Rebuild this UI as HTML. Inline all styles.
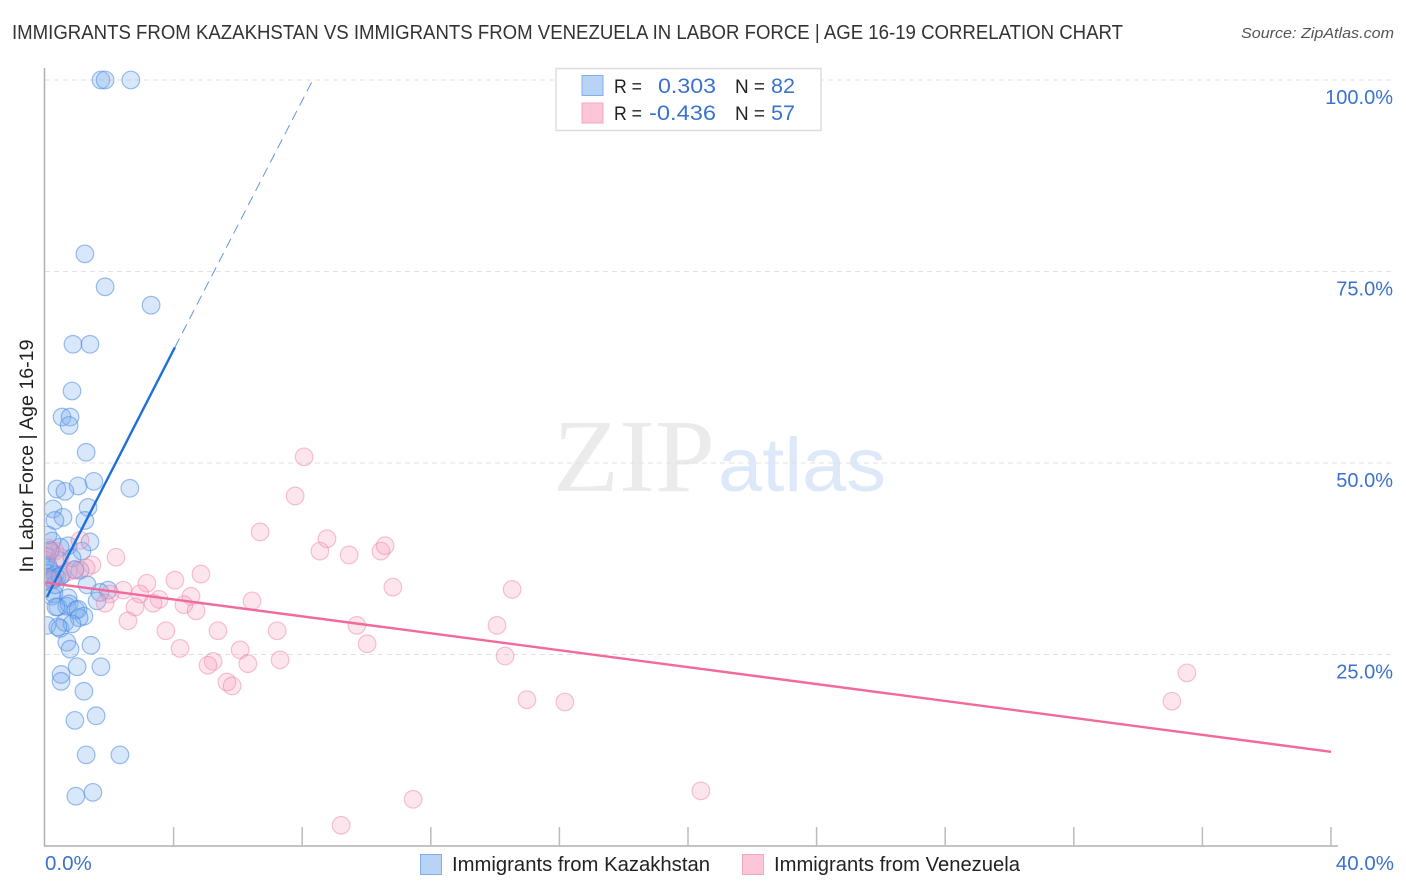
<!DOCTYPE html>
<html lang="en">
<head>
<meta charset="utf-8">
<title>Immigrants from Kazakhstan vs Immigrants from Venezuela in Labor Force | Age 16-19 Correlation Chart</title>
<style>
html,body{margin:0;padding:0;background:#fff;}
svg{display:block;}
text{font-family:"Liberation Sans",sans-serif;}
</style>
</head>
<body>
<svg id="chart" xmlns="http://www.w3.org/2000/svg" width="1406" height="892" viewBox="0 0 1406 892">
  <defs><clipPath id="plot-clip"><rect x="45.5" y="60" width="1340" height="786"/></clipPath></defs>
  <rect x="0" y="0" width="1406" height="892" fill="#ffffff"/>
  <text x="12" y="39" font-size="20" fill="#333333" textLength="1111" lengthAdjust="spacingAndGlyphs">IMMIGRANTS FROM KAZAKHSTAN VS IMMIGRANTS FROM VENEZUELA IN LABOR FORCE | AGE 16-19 CORRELATION CHART</text>
  <text x="1241" y="38" font-size="15" font-style="italic" fill="#555555" textLength="153" lengthAdjust="spacingAndGlyphs">Source: ZipAtlas.com</text>
  <g>
    <text x="553" y="491" font-size="104" fill="#ebebeb" textLength="162" lengthAdjust="spacingAndGlyphs" style="font-family:'Liberation Serif',serif;">ZIP</text>
    <text x="718" y="491" font-size="76" fill="#dde8f8" textLength="168" lengthAdjust="spacingAndGlyphs">atlas</text>
  </g>
  <g id="grid"></g>
  <g id="axes">
    <line x1="44.5" y1="68" x2="44.5" y2="846.5" stroke="#b0b0b0" stroke-width="1.5"/>
    <line x1="44" y1="846" x2="1338" y2="846" stroke="#b0b0b0" stroke-width="1.5"/>
  </g>
  <g id="xticks"></g>
  <g id="labels"></g>
  <text transform="translate(33,456) rotate(-90)" font-size="19" fill="#222222" text-anchor="middle" textLength="233" lengthAdjust="spacingAndGlyphs">In Labor Force | Age 16-19</text>
  <g id="points-kazakhstan" clip-path="url(#plot-clip)"></g>
  <g id="points-venezuela" clip-path="url(#plot-clip)"></g>
  <g id="trends"></g>

  <g>
    <rect x="556" y="68.5" width="265" height="62" fill="#ffffff" stroke="#dddddd" stroke-width="1.5"/>
    <rect x="582" y="75.5" width="21" height="20" fill="#b9d3f7" stroke="#80aee8" stroke-width="1"/>
    <rect x="582" y="103" width="21" height="20" fill="#fcc5d8" stroke="#f5a6c1" stroke-width="1"/>
    <text x="614" y="93" font-size="19" fill="#222222" textLength="28" lengthAdjust="spacingAndGlyphs">R =</text>
    <text x="658" y="93" font-size="21" fill="#3b72d0" textLength="58" lengthAdjust="spacingAndGlyphs">0.303</text>
    <text x="735" y="93" font-size="19" fill="#222222" textLength="30" lengthAdjust="spacingAndGlyphs">N =</text>
    <text x="771" y="93" font-size="21" fill="#3b72d0" textLength="24" lengthAdjust="spacingAndGlyphs">82</text>
    <text x="614" y="120" font-size="19" fill="#222222" textLength="28" lengthAdjust="spacingAndGlyphs">R =</text>
    <text x="649" y="120" font-size="21" fill="#3b72d0" textLength="67" lengthAdjust="spacingAndGlyphs">-0.436</text>
    <text x="735" y="120" font-size="19" fill="#222222" textLength="30" lengthAdjust="spacingAndGlyphs">N =</text>
    <text x="771" y="120" font-size="21" fill="#3b72d0" textLength="24" lengthAdjust="spacingAndGlyphs">57</text>
  </g>

  <g>
    <rect x="420.5" y="854.5" width="21" height="20" fill="#b9d3f7" stroke="#80aee8" stroke-width="1"/>
    <text x="452" y="871" font-size="20" fill="#222222" textLength="258" lengthAdjust="spacingAndGlyphs">Immigrants from Kazakhstan</text>
    <rect x="742.5" y="854.5" width="21" height="20" fill="#fcc5d8" stroke="#f5a6c1" stroke-width="1"/>
    <text x="774" y="871" font-size="20" fill="#222222" textLength="246" lengthAdjust="spacingAndGlyphs">Immigrants from Venezuela</text>
  </g>
</svg>
<script>
var kazakhstanX = [1.74,1.87,2.67,1.24,1.87,3.30,0.87,1.40,0.84,0.53,0.78,0.75,1.28,1.52,2.64,1.03,0.37,0.62,1.34,1.24,0.25,0.56,0.31,0.09,0.22,0.72,0.47,1.40,1.15,0.16,0.06,0.84,0.40,0.09,1.09,0.93,0.53,0.37,0.22,0.06,0.16,0.31,1.31,1.96,1.71,0.28,0.22,0.72,1.62,0.40,0.68,0.75,0.96,1.03,1.21,1.06,0.06,0.47,0.62,0.84,1.43,0.68,0.78,1.74,1.00,0.50,0.50,1.21,1.59,0.93,1.28,2.33,1.49,0.96,0.34,0.09,0.03,0.31,0.25,0.47,0.40,0.16];
var kazakhstanY = [100,100,100,77.3,73.0,70.6,65.5,65.5,59.4,56.0,56.0,54.9,51.4,47.6,46.7,47.0,46.6,46.3,44.2,42.5,44.0,42.9,42.5,40.6,39.8,39.2,39.0,39.7,38.5,38.4,37.8,37.6,37.3,36.7,36.0,36.1,35.4,35.1,35.0,35.6,36.0,35.4,34.1,33.4,33.1,32.9,32.6,32.4,32.0,31.2,31.3,31.6,30.8,30.9,30.0,29.8,28.8,28.4,29.2,29.0,26.2,26.6,25.7,23.4,23.4,22.4,21.5,20.2,17.0,16.4,11.9,11.9,7.0,6.5,31.2,35.1,37.3,34.1,34.8,35.2,28.6,38.6];
var venezuelaX = [8.06,7.78,6.69,8.77,8.55,9.46,10.45,10.58,10.82,14.53,4.85,4.04,3.17,2.21,1.46,1.09,1.28,0.47,0.31,0.72,2.43,2.02,2.95,3.55,3.36,4.54,4.32,4.70,6.44,2.80,1.87,2.58,3.76,5.38,7.22,9.70,14.06,10.02,4.20,6.07,5.23,5.07,6.31,7.31,14.31,5.66,5.82,14.99,16.17,35.52,35.05,20.40,11.45,9.21,0.16,0.09,0.93];
var venezuelaY = [50.8,45.7,41.0,40.1,38.5,38.0,38.5,39.2,33.8,33.5,35.5,34.7,34.3,37.7,36.7,39.9,36.3,37.7,38.5,35.8,33.4,32.9,32.9,32.2,31.7,32.6,31.5,30.7,32.0,31.2,31.7,29.4,28.1,28.1,28.1,28.8,28.8,26.4,25.8,25.6,24.1,23.6,23.8,24.3,24.8,21.4,20.9,19.1,18.8,22.6,18.9,7.2,6.1,2.7,34.7,38.9,36.0];
var kazakhstanTrendX = [0.06,4.04];
var kazakhstanTrendY = [32.5,65.1];
var kazakhstanProjectionX = [4.04,8.33];
var kazakhstanProjectionY = [65.1,100];
var venezuelaTrendX = [0,40];
var venezuelaTrendY = [34.4,12.3];
var yTickValues = [100,75,50,25];
var yTickLabels = ["100.0%","75.0%","50.0%","25.0%"];
var xTickValues = [4,8,12,16,20,24,28,32,36,40];
var xEndLabels = ["0.0%","40.0%"];
var xEndValues = [0,40];

var SVGNS = "http://www.w3.org/2000/svg";
function xScale(v){ return 45 + v * 32.15; }
function yScale(v){ return 846 - v * 7.66; }
function make(tag, parent){
  var el = document.createElementNS(SVGNS, tag);
  document.getElementById(parent).appendChild(el);
  return el;
}
yTickValues.forEach(function(v, i){
  var g = make("line", "grid");
  
  
  g.setAttribute("x1", 45);
  g.setAttribute("x2", 1393);
  g.setAttribute("y1", yScale(v));
  g.setAttribute("y2", yScale(v));
  g.setAttribute("stroke", "#e2e2e2");
  g.setAttribute("stroke-width", "1");
  g.setAttribute("stroke-dasharray", "5 4");
  var t = make("text", "labels");
  
  
  t.setAttribute("x", 1393);
  t.setAttribute("y", yScale(v) + 24);
  t.setAttribute("text-anchor", "end");
  t.setAttribute("font-size", "20");
  t.setAttribute("fill", "#3b72d0");
  t.textContent = yTickLabels[i];
});
xTickValues.forEach(function(v){
  var k = make("line", "xticks");
  
  
  k.setAttribute("x1", xScale(v));
  k.setAttribute("x2", xScale(v));
  k.setAttribute("y1", 827);
  k.setAttribute("y2", 846);
  k.setAttribute("stroke", "#bcbcbc");
  k.setAttribute("stroke-width", "1.5");
});
xEndValues.forEach(function(v, i){
  var t = make("text", "labels");
  
  
  t.setAttribute("x", i === 0 ? xScale(v) : 1394);
  t.setAttribute("y", 870);
  t.setAttribute("text-anchor", i === 0 ? "start" : "end");
  t.setAttribute("font-size", "20.5");
  t.setAttribute("fill", "#3b72d0");
  t.textContent = xEndLabels[i];
});
kazakhstanX.forEach(function(v, i){
  var c = make("circle", "points-kazakhstan");
  
  
  c.setAttribute("cx", xScale(v));
  c.setAttribute("cy", yScale(kazakhstanY[i]));
  c.setAttribute("r", 8.8);
  c.setAttribute("fill", "#7fb0f0");
  c.setAttribute("fill-opacity", "0.3");
  c.setAttribute("stroke", "#4a8be0");
  c.setAttribute("stroke-opacity", "0.55");
  c.setAttribute("stroke-width", "1.2");
});
venezuelaX.forEach(function(v, i){
  var c = make("circle", "points-venezuela");
  
  
  c.setAttribute("cx", xScale(v));
  c.setAttribute("cy", yScale(venezuelaY[i]));
  c.setAttribute("r", 8.8);
  c.setAttribute("fill", "#f9a0be");
  c.setAttribute("fill-opacity", "0.28");
  c.setAttribute("stroke", "#ee7aa3");
  c.setAttribute("stroke-opacity", "0.45");
  c.setAttribute("stroke-width", "1.2");
});
var trendKaz = make("line", "trends");


trendKaz.setAttribute("x1", xScale(kazakhstanTrendX[0]));
trendKaz.setAttribute("y1", yScale(kazakhstanTrendY[0]));
trendKaz.setAttribute("x2", xScale(kazakhstanTrendX[1]));
trendKaz.setAttribute("y2", yScale(kazakhstanTrendY[1]));
trendKaz.setAttribute("stroke", "#1f6fdb");
trendKaz.setAttribute("stroke-width", "2.4");
var projKaz = make("line", "trends");


projKaz.setAttribute("x1", xScale(kazakhstanProjectionX[0]));
projKaz.setAttribute("y1", yScale(kazakhstanProjectionY[0]));
projKaz.setAttribute("x2", xScale(kazakhstanProjectionX[1]));
projKaz.setAttribute("y2", yScale(kazakhstanProjectionY[1]));
projKaz.setAttribute("stroke", "#5f96e0");
projKaz.setAttribute("stroke-width", "1");
projKaz.setAttribute("stroke-dasharray", "10 6");
var trendVen = make("line", "trends");


trendVen.setAttribute("x1", xScale(venezuelaTrendX[0]));
trendVen.setAttribute("y1", yScale(venezuelaTrendY[0]));
trendVen.setAttribute("x2", xScale(venezuelaTrendX[1]));
trendVen.setAttribute("y2", yScale(venezuelaTrendY[1]));
trendVen.setAttribute("stroke", "#f06a9b");
trendVen.setAttribute("stroke-width", "2.4");
</script>
</body>
</html>
